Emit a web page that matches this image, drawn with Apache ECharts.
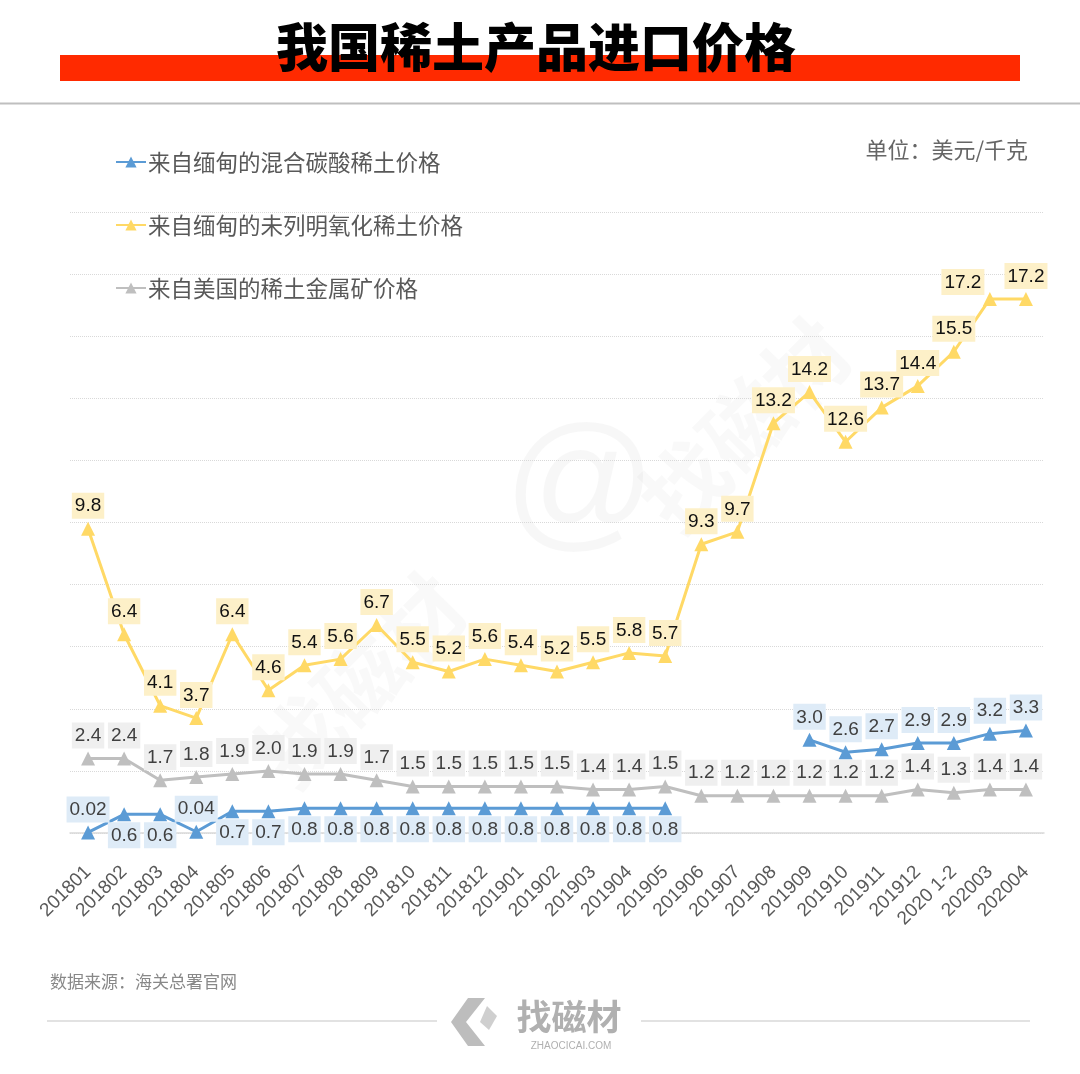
<!DOCTYPE html>
<html>
<head>
<meta charset="utf-8">
<script src="https://cdn.jsdelivr.net/npm/echarts@6/dist/echarts.min.js"></script>
<style>
html,body{margin:0;padding:0;background:#fff;}
#chart{width:1080px;height:1074px;}
</style>
</head>
<body>
<div id="chart"></div>
<script>
var categories = ['201801','201802','201803','201804','201805','201806','201807','201808','201809','201810','201811','201812','201901','201902','201903','201904','201905','201906','201907','201908','201909','201910','201911','201912','2020 1-2','202003','202004'];
var burmaCarbonate = [0.02,0.6,0.6,0.04,0.7,0.7,0.8,0.8,0.8,0.8,0.8,0.8,0.8,0.8,0.8,0.8,0.8,null,null,null,3.0,2.6,2.7,2.9,2.9,3.2,3.3];
var burmaOxide = [9.8,6.4,4.1,3.7,6.4,4.6,5.4,5.6,6.7,5.5,5.2,5.6,5.4,5.2,5.5,5.8,5.7,9.3,9.7,13.2,14.2,12.6,13.7,14.4,15.5,17.2,17.2];
var usaOre = [2.4,2.4,1.7,1.8,1.9,2.0,1.9,1.9,1.7,1.5,1.5,1.5,1.5,1.5,1.4,1.4,1.5,1.2,1.2,1.2,1.2,1.2,1.2,1.4,1.3,1.4,1.4];
var seriesNames = ['来自缅甸的混合碳酸稀土价格','来自缅甸的未列明氧化稀土价格','来自美国的稀土金属矿价格'];
var titleText = '我国稀土产品进口价格';
var unitText = '单位：美元/千克';
var sourceText = '数据来源：海关总署官网';

// label placement for the blue series: which points carry their label above
var blueLabelTop = [0, 3, 20, 21, 22, 23, 24, 25, 26];

var FONT = '"Noto Sans CJK SC", "Liberation Sans", Arial, sans-serif';
var NUMFONT = '"Liberation Sans", Arial, sans-serif';

function fmt(v, digits) {
  return v.toFixed(digits);
}

function labelCfg(color, bg) {
  return {
    show: true,
    position: 'top',
    distance: 3,
    fontFamily: NUMFONT,
    fontSize: 19,
    color: color,
    backgroundColor: bg,
    padding: [4, 3, 3, 3]
  };
}

var blueData = burmaCarbonate.map(function (v, i) {
  if (v === null) return null;
  var top = blueLabelTop.indexOf(i) >= 0;
  return {
    value: v,
    label: {
      position: top ? 'top' : 'bottom',
      distance: top ? 3 : 1,
      formatter: (v < 0.1 ? fmt(v, 2) : fmt(v, 1))
    }
  };
});

var yellowData = burmaOxide.map(function (v, i) {
  // the label of the next-to-last point is nudged left so it does not collide
  if (i === burmaOxide.length - 2) {
    return { value: v, label: { offset: [-27, 6] } };
  }
  return v;
});

var chart = echarts.init(document.getElementById('chart'));
var option = {
  backgroundColor: '#ffffff',
  animation: false,
  textStyle: { fontFamily: FONT },
  legend: {
    orient: 'vertical',
    left: 110,
    top: 145,
    itemWidth: 30,
    itemHeight: 14,
    itemGap: 39,
    textStyle: { fontSize: 22.5, color: '#595959', fontFamily: FONT, lineHeight: 24, padding: [0, 0, 0, -3] },
    data: seriesNames
  },
  grid: { left: 70, right: 36, top: 212, bottom: 241, containLabel: false },
  xAxis: {
    type: 'category',
    data: categories,
    boundaryGap: true,
    axisLine: { show: true, lineStyle: { color: '#d9d9d9', width: 1.5 } },
    axisTick: { show: false },
    axisLabel: {
      rotate: 45,
      interval: 0,
      margin: 36,
      fontSize: 19,
      fontFamily: NUMFONT,
      color: '#595959'
    }
  },
  yAxis: {
    type: 'value',
    min: 0,
    max: 20,
    interval: 2,
    axisLine: { show: false },
    axisTick: { show: false },
    axisLabel: { show: false },
    splitLine: { lineStyle: { color: '#d9d9d9', type: 'dotted', width: 1 } }
  },
  series: [
    {
      name: seriesNames[0],
      type: 'line',
      data: blueData,
      symbol: 'triangle',
      symbolSize: 14,
      connectNulls: false,
      lineStyle: { color: '#5b9bd5', width: 3 },
      itemStyle: { color: '#5b9bd5' },
      label: labelCfg('#404040', '#deebf7'),
      z: 4
    },
    {
      name: seriesNames[1],
      type: 'line',
      data: yellowData,
      symbol: 'triangle',
      symbolSize: 14,
      lineStyle: { color: '#ffd966', width: 3 },
      itemStyle: { color: '#ffd966' },
      label: Object.assign(labelCfg('#111111', '#fdf0c8'), {
        formatter: function (p) { return fmt(p.value, 1); }
      }),
      z: 3
    },
    {
      name: seriesNames[2],
      type: 'line',
      data: usaOre,
      symbol: 'triangle',
      symbolSize: 14,
      lineStyle: { color: '#bfbfbf', width: 3 },
      itemStyle: { color: '#bfbfbf' },
      label: Object.assign(labelCfg('#404040', '#efefef'), {
        formatter: function (p) { return fmt(p.value, 1); }
      }),
      z: 2
    }
  ],
  graphic: [
    // faint watermark
    {
      type: 'text', x: 580, y: 490, z: -10, silent: true,
      style: { text: '@', fontSize: 150, fontFamily: NUMFONT, fill: 'rgba(0,0,0,0.03)', align: 'center', verticalAlign: 'middle' }
    },
    {
      type: 'text', x: 240, y: 740, rotation: Math.PI / 4, z: -10, silent: true,
      style: { text: '找磁材', fontSize: 85, fontWeight: 'bold', fontFamily: FONT, fill: 'rgba(0,0,0,0.025)' }
    },
    {
      type: 'text', x: 625, y: 485, rotation: Math.PI / 4, z: -10, silent: true,
      style: { text: '找磁材', fontSize: 85, fontWeight: 'bold', fontFamily: FONT, fill: 'rgba(0,0,0,0.025)' }
    },
    // title
    {
      type: 'rect', shape: { x: 60, y: 55, width: 960, height: 26 },
      style: { fill: '#ff2a00' }, z: 10
    },
    {
      type: 'text', x: 536, y: 47, z: 11,
      style: {
        text: titleText, fontSize: 52, fontWeight: 900, fontFamily: FONT,
        fill: '#000', align: 'center', verticalAlign: 'middle'
      }
    },
    {
      type: 'line', shape: { x1: 0, y1: 103.5, x2: 1080, y2: 103.5 },
      style: { stroke: '#bfbfbf', lineWidth: 2 }, z: 10
    },
    {
      type: 'text', x: 1028, y: 150, z: 10,
      style: { text: unitText, fontSize: 22, fontFamily: FONT, fill: '#666', align: 'right', verticalAlign: 'middle' }
    },
    // footer
    {
      type: 'text', x: 50, y: 982, z: 10,
      style: { text: sourceText, fontSize: 17, fontFamily: FONT, fill: '#888', verticalAlign: 'middle' }
    },
    {
      type: 'line', shape: { x1: 47, y1: 1021, x2: 437, y2: 1021 },
      style: { stroke: '#d9d9d9', lineWidth: 1.5 }, z: 10
    },
    {
      type: 'line', shape: { x1: 641, y1: 1021, x2: 1030, y2: 1021 },
      style: { stroke: '#d9d9d9', lineWidth: 1.5 }, z: 10
    },
    {
      type: 'polygon', z: 10,
      shape: { points: [[468,998],[485,998],[466,1022],[485,1046],[468,1046],[451,1022]] },
      style: { fill: '#bdbdbd' }
    },
    {
      type: 'polygon', z: 10,
      shape: { points: [[487,1006],[497,1016],[489,1030],[480,1022]] },
      style: { fill: '#cfcfcf' }
    },
    {
      type: 'text', x: 569, y: 1017, z: 10,
      style: { text: '找磁材', fontSize: 35, fontWeight: 'bold', fontFamily: FONT, fill: '#b0b0b0', align: 'center', verticalAlign: 'middle' }
    },
    {
      type: 'text', x: 571, y: 1046, z: 10,
      style: { text: 'ZHAOCICAI.COM', fontSize: 10, fontFamily: NUMFONT, fill: '#b0b0b0', align: 'center', verticalAlign: 'middle' }
    }
  ]
};
chart.setOption(option);
</script>
</body>
</html>
